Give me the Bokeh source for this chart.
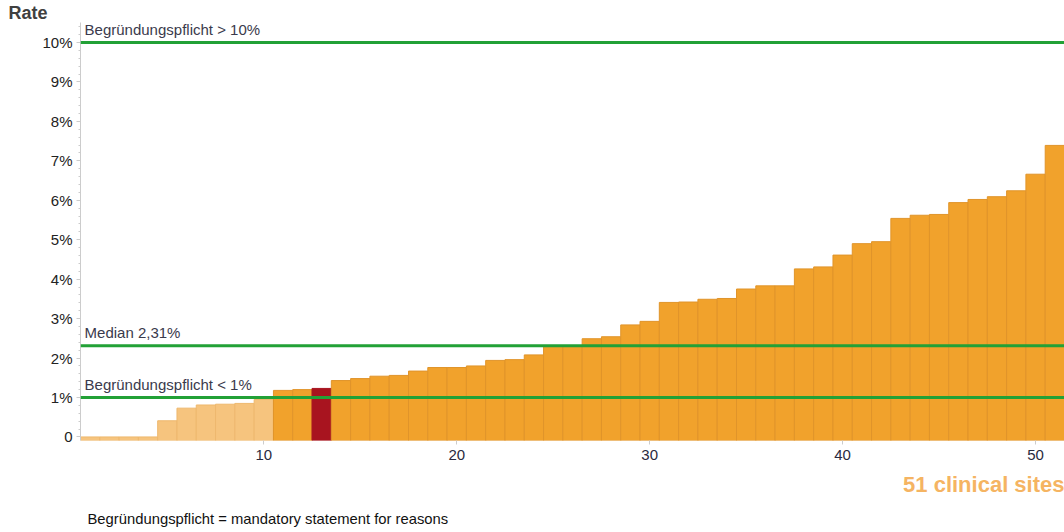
from bokeh.plotting import figure
from bokeh.models import Span, Label, FixedTicker, ColumnDataSource, Range1d, Title
from bokeh.embed import file_html
from bokeh.resources import INLINE

sites = list(range(1, 52))
rates = [0.0, 0.0, 0.0, 0.0, 0.41, 0.73, 0.81, 0.83, 0.85, 0.95,
         1.18, 1.20, 1.23, 1.43, 1.48, 1.54, 1.56, 1.67, 1.76, 1.76,
         1.80, 1.94, 1.96, 2.08, 2.30, 2.31, 2.49, 2.54, 2.84, 2.93,
         3.41, 3.42, 3.49, 3.51, 3.75, 3.83, 3.83, 4.26, 4.31, 4.61,
         4.90, 4.95, 5.54, 5.62, 5.64, 5.94, 6.02, 6.09, 6.24, 6.66,
         7.39]
highlight_site = 13
light_until = 10
median = 2.31
lower_limit = 1.0
upper_limit = 10.0
y_ticks = [0, 1, 2, 3, 4, 5, 6, 7, 8, 9, 10]
y_tick_labels = ["0", "1%", "2%", "3%", "4%", "5%", "6%", "7%", "8%", "9%", "10%"]
x_ticks = [10, 20, 30, 40, 50]

fills, lines = [], []
for s in sites:
    if s == highlight_site:
        fills.append("#A8141F"); lines.append("#A8141F")
    elif s <= light_until:
        fills.append("#F6C47E"); lines.append("#EEB86E")
    else:
        fills.append("#F1A22C"); lines.append("#E0942A")

PX_PER_PCT = 39.45
FRAME_TOP = 22
FRAME_BOTTOM = 440
y0 = -0.09
y1 = y0 + (FRAME_BOTTOM - FRAME_TOP) / PX_PER_PCT
src = ColumnDataSource(dict(x=sites, top=rates, fill=fills, line=lines))

p = figure(width=1064, height=532, output_backend="svg", toolbar_location=None,
           x_range=Range1d(0.5, 51.5), y_range=Range1d(y0, y1),
           min_border_left=80, min_border_right=0, min_border_top=0,
           min_border_bottom=532 - FRAME_BOTTOM)
p.outline_line_color = None
p.xgrid.visible = False
p.ygrid.visible = False
p.background_fill_color = "white"

p.vbar(x="x", top="top", bottom=y0, width=1.0, source=src,
       fill_color="fill", line_color="line", line_width=1)

for v in (upper_limit, median, lower_limit):
    p.add_layout(Span(location=v, dimension="width", line_color="#22A136", line_width=3))

font = "Liberation Sans"
p.yaxis.ticker = FixedTicker(ticks=y_ticks, minor_ticks=[i / 5 for i in range(0, 54)])
p.yaxis.major_label_overrides = {t: l for t, l in zip(y_ticks, y_tick_labels)}
p.yaxis.axis_line_color = "#CCCCCC"
p.yaxis.major_tick_line_color = "#CCCCCC"
p.yaxis.minor_tick_line_color = "#CCCCCC"
p.yaxis.major_tick_out = 4
p.yaxis.major_tick_in = 0
p.yaxis.minor_tick_out = 2
p.yaxis.minor_tick_in = 0
p.yaxis.major_label_text_font = font
p.yaxis.major_label_text_font_size = "15px"
p.yaxis.major_label_text_color = "#222222"
p.yaxis.major_label_standoff = 4

p.xaxis.ticker = FixedTicker(ticks=x_ticks)
p.xaxis.axis_line_color = None
p.xaxis.major_tick_line_color = "#CCCCCC"
p.xaxis.major_tick_out = 4
p.xaxis.major_tick_in = 0
p.xaxis.minor_tick_line_color = None
p.xaxis.major_label_text_font = font
p.xaxis.major_label_text_font_size = "15px"
p.xaxis.major_label_text_color = "#2A2A3E"
p.xaxis.major_label_standoff = 5

txt = "#3A3A4C"
for yv, t in ((upper_limit, "Begründungspflicht > 10%"), (median, "Median 2,31%"),
              (lower_limit, "Begründungspflicht < 1%")):
    p.add_layout(Label(x=0.71, y=yv + 13.0 / PX_PER_PCT, text=t, text_font=font,
                       text_font_size="15px", text_color=txt, text_baseline="alphabetic"))

p.add_layout(Title(text="Rate", align="left", offset=-72, standoff=0, vertical_align="bottom",
                   text_font=font, text_font_size="18px", text_font_style="bold",
                   text_color="#404040"), "above")
p.add_layout(Title(text="51 clinical sites", align="right", offset=0, standoff=15, text_font=font,
                   text_font_size="22px", text_font_style="bold", text_color="#F5B462"), "below")
p.add_layout(Title(text="Begründungspflicht = mandatory statement for reasons", align="left",
                   offset=7, standoff=9, text_font=font, text_font_size="14.8px",
                   text_font_style="normal", text_color="#111111"), "below")

open("out.html", "w").write(file_html(p, INLINE))
